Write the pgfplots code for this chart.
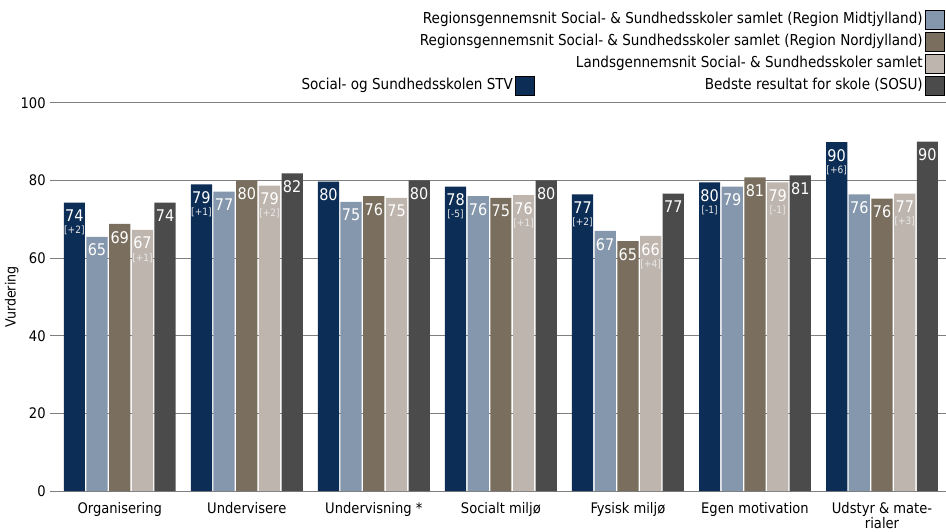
\documentclass[border=0pt]{standalone}
\usepackage{fontspec}
\setmainfont{DejaVu Sans Condensed}
\usepackage{pgfplots}
\pgfplotsset{compat=1.18}
\definecolor{cstv}{HTML}{0C2D55}
\definecolor{cmid}{HTML}{8497AC}
\definecolor{cnor}{HTML}{7A6F5E}
\definecolor{clan}{HTML}{BEB6AE}
\definecolor{cbest}{HTML}{4B4B4B}
\definecolor{cgrid}{HTML}{7F7F7F}
\protected\def\dl#1#2{#1\\[-4bp]{\fontsize{10}{10}\selectfont\color{white!82!gray}[#2]}}
\newcommand\rl[1]{\makebox[40bp][r]{#1}}
\begin{document}
\begin{tikzpicture}
\begin{axis}[
  scale only axis,
  width=882bp, height=385bp,
  xmin=-0.5, xmax=6.5, ymin=0, ymax=100,
  ytick={0,20,...,100},
  xtick={0,...,6},
  xticklabels={Organisering,Undervisere,Undervisning *,Socialt miljø,Fysisk miljø,Egen motivation,{Udstyr \& mate-\\rialer}},
  xticklabel style={align=center, font=\fontsize{14.5}{15.5}\selectfont, inner xsep=0bp, inner ysep=2bp, yshift=-3bp},
  yticklabel style={font=\fontsize{14.5}{14}\selectfont, xshift=-1bp},
  /pgf/number format/assume math mode=true,
  ylabel={Vurdering},
  every axis y label/.style={at={(axis description cs:0,0.5)}, xshift=-44bp, rotate=90, anchor=center, inner sep=5bp, font=\fontsize{14}{14}\selectfont},
  ymajorgrids,
  grid style={cgrid, line width=0.9bp},
  axis x line*=bottom,
  axis y line*=left,
  y axis line style={draw=none},
  x axis line style={cgrid, line width=0.9bp},
  xtick style={draw=none},
  ytick style={cgrid, line width=0.9bp},
  tick align=outside,
  major tick length=6bp,
  enlargelimits=false,
  clip=false,
  point meta=explicit symbolic,
  nodes near coords,
  nodes near coords align={anchor=north},
  every node near coord/.append style={text=white, align=center, font=\fontsize{16}{16}\selectfont, inner sep=2bp, yshift=-5bp},
  ybar, bar width=0.167, bar shift=0,
  legend style={at={(1,1)}, anchor=south east, xshift=-1bp, yshift=-3bp, draw=none, fill=none, legend columns=2, legend cell align=right,
    inner xsep=0bp, inner ysep=10bp,
    nodes={text height=11bp, text depth=3.5bp, inner sep=2bp},
    font=\fontsize{15}{15}\selectfont, row sep=2.4bp,
    /tikz/every even column/.append style={column sep=343bp}},
  legend plot pos=right,
  legend image code/.code={\fill[#1] (0bp,-9.5bp) rectangle (19bp,9.5bp);},
]
\addlegendimage{empty legend}\addlegendentry{}
\addlegendimage{fill=cmid}\addlegendentry{\rl{Regionsgennemsnit Social- \& Sundhedsskoler samlet (Region Midtjylland)}}
\addlegendimage{empty legend}\addlegendentry{}
\addlegendimage{fill=cnor}\addlegendentry{\rl{Regionsgennemsnit Social- \& Sundhedsskoler samlet (Region Nordjylland)}}
\addlegendimage{empty legend}\addlegendentry{}
\addlegendimage{fill=clan}\addlegendentry{\rl{Landsgennemsnit Social- \& Sundhedsskoler samlet}}
\addlegendimage{fill=cstv}\addlegendentry{Social- og Sundhedsskolen STV}
\addlegendimage{fill=cbest}\addlegendentry{\rl{Bedste resultat for skole (SOSU)}}

\addplot[fill=cstv, draw=none] coordinates {
 (-0.357,74.3) [\dl{74}{+2}] (0.643,79.0) [\dl{79}{+1}] (1.643,79.7) [80] (2.643,78.4) [\dl{78}{-5}]
 (3.643,76.4) [\dl{77}{+2}] (4.643,79.5) [\dl{80}{-1}] (5.643,89.9) [\dl{90}{+6}]};
\addplot[fill=cmid, draw=none] coordinates {
 (-0.179,65.5) [65] (0.821,77.1) [77] (1.821,74.5) [75] (2.821,76.0) [76]
 (3.821,67.0) [67] (4.821,78.4) [79] (5.821,76.4) [76]};
\addplot[fill=cnor, draw=none] coordinates {
 (0,68.8) [69] (1,80.0) [80] (2,76.0) [76] (3,75.5) [75]
 (4,64.4) [65] (5,80.8) [81] (6,75.3) [76]};
\addplot[fill=clan, draw=none] coordinates {
 (0.179,67.3) [\dl{67}{+1}] (1.179,78.7) [\dl{79}{+2}] (2.179,75.5) [75] (3.179,76.2) [\dl{76}{+1}]
 (4.179,65.7) [\dl{66}{+4}] (5.179,79.5) [\dl{79}{-1}] (6.179,76.6) [\dl{77}{+3}]};
\addplot[fill=cbest, draw=none] coordinates {
 (0.357,74.3) [74] (1.357,81.8) [82] (2.357,80.0) [80] (3.357,80.0) [80]
 (4.357,76.6) [77] (5.357,81.3) [81] (6.357,90.0) [90]};
\end{axis}
\end{tikzpicture}
\end{document}
